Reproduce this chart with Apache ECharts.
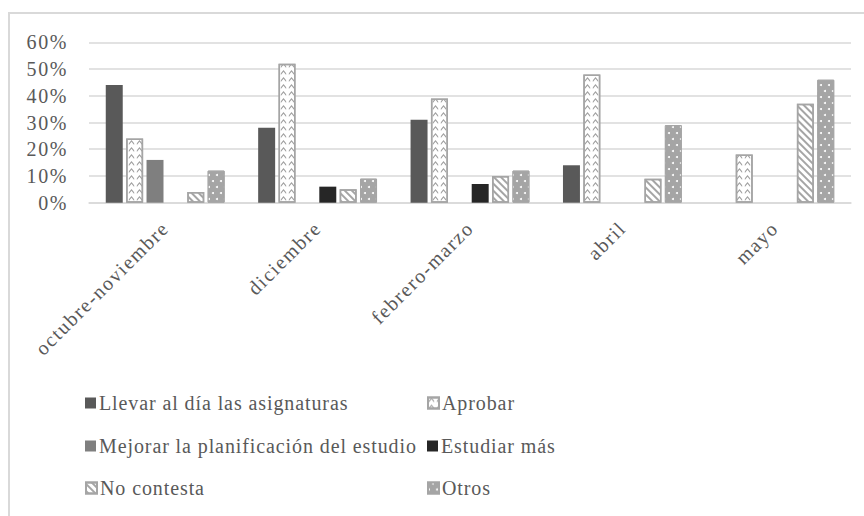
<!DOCTYPE html>
<html>
<head>
<meta charset="utf-8">
<script src="https://cdn.jsdelivr.net/npm/echarts@6/dist/echarts.min.js"></script>
<style>
html,body{margin:0;padding:0;background:#fff;}
#chart{width:864px;height:516px;}
</style>
</head>
<body>
<div id="chart"></div>
<script>
const categories = ['octubre-noviembre', 'diciembre', 'febrero-marzo', 'abril', 'mayo'];
const yTicks = [0, 0.1, 0.2, 0.3, 0.4, 0.5, 0.6];
const seriesNames = ['Llevar al día las asignaturas', 'Aprobar', 'Mejorar la planificación del estudio', 'Estudiar más', 'No contesta', 'Otros'];
const llevar    = [0.44, 0.28, 0.31, 0.14, null];
const aprobar   = [0.24, 0.52, 0.39, 0.48, 0.18];
const mejorar   = [0.16, null, null, null, null];
const estudiar  = [null, 0.06, 0.07, null, null];
const noContesta= [0.04, 0.05, 0.10, 0.09, 0.37];
const otros     = [0.12, 0.09, 0.12, 0.29, 0.46];

const values = [llevar, aprobar, mejorar, estudiar, noContesta, otros];

const styles = [
  {itemStyle:{color:'#595959'}},
  {itemStyle:{color:'#ffffff', borderColor:'#a5a5a5', borderWidth:1.5,
     decal:{symbol:'path://M0,5 L4,0 L8,5 L8,7.5 L4,2.5 L0,7.5 Z', color:'#a0a0a0', symbolSize:1, dashArrayX:[7,1], dashArrayY:[5,1.5]}}},
  {itemStyle:{color:'#7f7f7f'}},
  {itemStyle:{color:'#262626'}},
  {itemStyle:{color:'#ffffff', borderColor:'#a5a5a5', borderWidth:1.5,
     decal:{symbol:'rect', color:'#a5a5a5', symbolSize:1, dashArrayX:[1,0], dashArrayY:[1.8,2.4], rotation:Math.PI/4}}},
  {itemStyle:{color:'#a5a5a5', borderColor:'#a5a5a5', borderWidth:1,
     decal:{symbol:'circle', color:'#ffffff', symbolSize:1, dashArrayX:[[2,6],[0,4,2,2]], dashArrayY:[2,4]}}}
];

const legendPos = [[85,393],[427,393],[85,436],[427,436],[85,478],[427,478]];

const textStyle = {fontFamily:'"Liberation Serif", "Times New Roman", serif', fontSize:20, color:'#595959'};

const series = seriesNames.map((n,i)=>Object.assign({
  name:n, type:'bar', data:values[i], barGap:'20%', barCategoryGap:'22%'
}, styles[i]));

const legends = seriesNames.map((n,i)=>({
  data:[n], left:legendPos[i][0], top:legendPos[i][1], padding:0,
  itemWidth:11, itemHeight:11, itemGap:0, icon:'rect',
  textStyle:Object.assign({}, textStyle, {padding:[0,0,0,-2]})
}));

const chart = echarts.init(document.getElementById('chart'), null, {renderer:'svg'});
chart.setOption({
  animation:false,
  backgroundColor:'#ffffff',
  graphic:[{type:'rect', shape:{x:9, y:13, width:900, height:600}, style:{fill:'none', stroke:'#d9d9d9', lineWidth:2}, silent:true}],
  legend:legends,
  grid:{left:89, right:13, top:42.3, bottom:313.3, containLabel:false},
  xAxis:{type:'category', data:categories,
    axisLine:{lineStyle:{color:'#d9d9d9', width:1.5}}, axisTick:{show:false},
    axisLabel:Object.assign({}, textStyle, {rotate:45, interval:0, margin:22})},
  yAxis:{type:'value', min:yTicks[0], max:yTicks[yTicks.length-1], interval:0.1,
    axisLine:{show:false}, axisTick:{show:false},
    splitLine:{lineStyle:{color:'#d9d9d9', width:1.5}},
    axisLabel:Object.assign({}, textStyle, {margin:21, formatter:v=>Math.round(v*100)+'%'})},
  series:series
});
function spacing(){
  document.querySelectorAll('#chart svg text').forEach(t=>{
    const s=t.textContent;
    t.style.letterSpacing = seriesNames.includes(s) ? '0.9px' : '1.6px';
  });
}
chart.on('finished', spacing);
spacing();
</script>
</body>
</html>
